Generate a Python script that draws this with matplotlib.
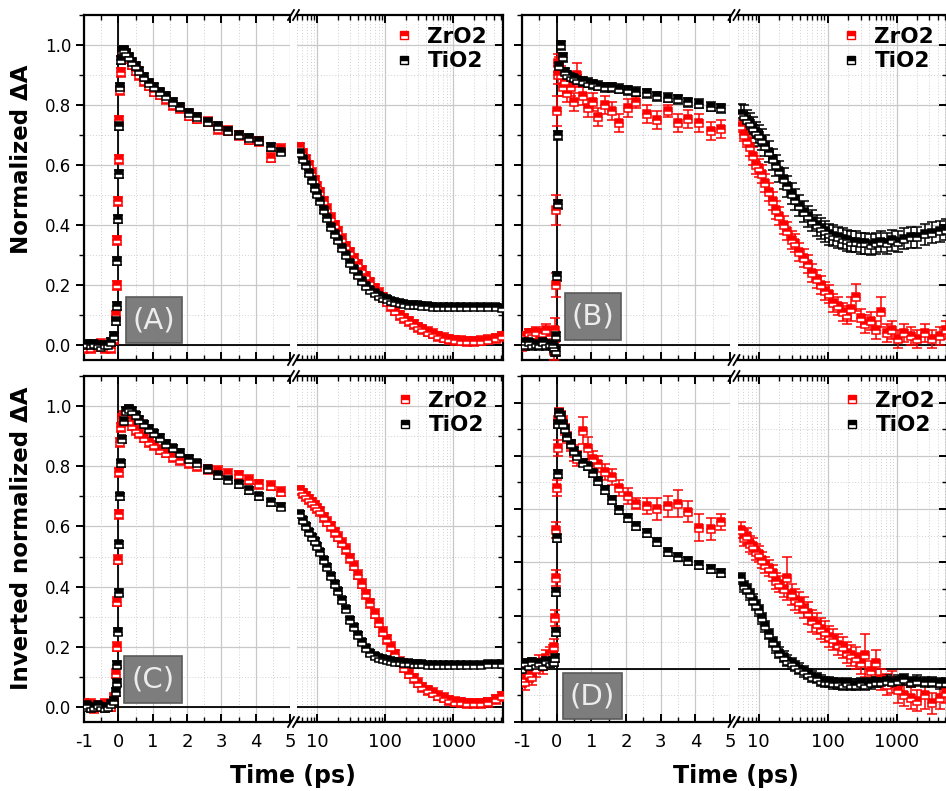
import numpy as np
import matplotlib
matplotlib.use('Agg')
import matplotlib.pyplot as plt
from matplotlib.lines import Line2D
from matplotlib.patches import Rectangle
from matplotlib.ticker import MultipleLocator, LogLocator, NullFormatter

plt.rcParams['axes.unicode_minus'] = False

# delay times (ps), split at the axis break
t_lin = [-1.0, -0.9, -0.8, -0.7, -0.6, -0.5, -0.4, -0.3, -0.2, -0.12,
         -0.08, -0.05, -0.03, -0.01, 0.01, 0.03, 0.05, 0.08, 0.12, 0.17,
         0.23, 0.3, 0.4, 0.5, 0.6, 0.75, 0.9, 1.05, 1.2, 1.4,
         1.6, 1.8, 2.05, 2.3, 2.6, 2.9, 3.2, 3.5, 3.8, 4.1,
         4.45, 4.75]
t_log = [5.6, 6.2, 6.8, 7.5, 8.3, 9.2, 10, 11, 12.5, 14,
         16, 18, 20, 23, 26, 30, 34, 39, 45, 52,
         60, 70, 80, 92, 105, 120, 140, 165, 190, 220,
         260, 300, 350, 420, 500, 600, 720, 870, 1050, 1300,
         1600, 2000, 2600, 3300, 4300, 5200]

# (A) normalized dA
a_zro2_lin = [-0.01, 0.0, -0.01, 0.0, -0.005, 0.005, -0.01, 0.0, -0.01, 0.02,
              0.1, 0.2, 0.35, 0.48, 0.62, 0.75, 0.85, 0.91, 0.96, 0.975,
              0.97, 0.955, 0.935, 0.915, 0.9, 0.88, 0.865, 0.845, 0.835, 0.82,
              0.80, 0.79, 0.765, 0.755, 0.745, 0.72, 0.715, 0.70, 0.685, 0.68,
              0.625, 0.655]
a_tio2_lin = [0.0, 0.005, 0.0, 0.005, 0.0, -0.005, 0.0, 0.0, 0.01, 0.03,
              0.08, 0.13, 0.28, 0.42, 0.57, 0.73, 0.86, 0.95, 0.98, 0.985,
              0.975, 0.96, 0.945, 0.93, 0.915, 0.895, 0.875, 0.86, 0.845, 0.83,
              0.81, 0.795, 0.775, 0.76, 0.745, 0.73, 0.715, 0.70, 0.69, 0.68,
              0.66, 0.645]
a_zro2_log = [0.66, 0.64, 0.62, 0.60, 0.575, 0.55, 0.53, 0.51, 0.48, 0.455,
              0.425, 0.40, 0.38, 0.355, 0.33, 0.31, 0.29, 0.27, 0.25, 0.23,
              0.21, 0.19, 0.175, 0.16, 0.145, 0.13, 0.115, 0.10, 0.09, 0.08,
              0.07, 0.06, 0.052, 0.045, 0.037, 0.03, 0.024, 0.02, 0.016, 0.014,
              0.012, 0.012, 0.015, 0.018, 0.022, 0.03]
a_tio2_log = [0.64, 0.62, 0.60, 0.575, 0.55, 0.525, 0.505, 0.48, 0.45, 0.425,
              0.395, 0.37, 0.35, 0.325, 0.30, 0.275, 0.255, 0.235, 0.215, 0.197,
              0.183, 0.172, 0.163, 0.157, 0.152, 0.147, 0.143, 0.14, 0.137, 0.135,
              0.133, 0.132, 0.13, 0.13, 0.128, 0.128, 0.127, 0.126, 0.127, 0.126,
              0.126, 0.127, 0.127, 0.126, 0.126, 0.125]
a_zro2_err = (0.015, 0.015)
a_tio2_err = (0.012, 0.01)

# (B) normalized dA
b_zro2_lin = [0.0, 0.03, 0.04, 0.035, 0.045, 0.02, 0.04, 0.05, 0.03, 0.02,
              -0.02, 0.05, 0.2, 0.45, 0.78, 0.9, 0.94, 0.93, 0.90, 0.86,
              0.88, 0.84, 0.86, 0.81, 0.90, 0.83, 0.79, 0.81, 0.76, 0.80,
              0.78, 0.74, 0.79, 0.81, 0.77, 0.75, 0.78, 0.74, 0.755, 0.74,
              0.715, 0.72]
b_tio2_lin = [0.01, 0.0, 0.01, 0.0, 0.005, 0.0, 0.01, 0.0, 0.005, 0.0,
              -0.01, -0.02, -0.02, 0.03, 0.23, 0.47, 0.70, 0.93, 1.0, 0.96,
              0.91, 0.90, 0.895, 0.89, 0.885, 0.88, 0.875, 0.87, 0.865, 0.86,
              0.86, 0.855, 0.85, 0.845, 0.84, 0.83, 0.825, 0.82, 0.81, 0.805,
              0.795, 0.79]
b_zro2_log = [0.73, 0.70, 0.68, 0.66, 0.63, 0.60, 0.59, 0.57, 0.54, 0.51,
              0.48, 0.45, 0.43, 0.40, 0.38, 0.35, 0.34, 0.31, 0.29, 0.27,
              0.24, 0.22, 0.20, 0.18, 0.17, 0.14, 0.13, 0.11, 0.10, 0.12,
              0.16, 0.09, 0.07, 0.08, 0.05, 0.11, 0.04, 0.05, 0.02, 0.04,
              0.03, 0.02, 0.04, 0.02, 0.03, 0.05]
b_tio2_log = [0.77, 0.765, 0.75, 0.74, 0.725, 0.71, 0.70, 0.685, 0.665, 0.645,
              0.62, 0.60, 0.58, 0.555, 0.53, 0.505, 0.485, 0.465, 0.445, 0.43,
              0.415, 0.40, 0.39, 0.38, 0.37, 0.365, 0.36, 0.355, 0.35, 0.345,
              0.345, 0.34, 0.34, 0.335, 0.34, 0.345, 0.34, 0.35, 0.345, 0.355,
              0.36, 0.36, 0.37, 0.375, 0.38, 0.385]
b_zro2_lin_err = [0.02, 0.015, 0.015, 0.02, 0.015, 0.02, 0.015, 0.02, 0.02, 0.03,
                  0.03, 0.04, 0.04, 0.05, 0.05, 0.03, 0.03, 0.03, 0.03, 0.03,
                  0.03, 0.03, 0.03, 0.03, 0.04, 0.03, 0.03, 0.03, 0.03, 0.03,
                  0.03, 0.03, 0.03, 0.02, 0.03, 0.03, 0.02, 0.03, 0.03, 0.03,
                  0.03, 0.03]
b_zro2_log_err = [0.02, 0.02, 0.02, 0.03, 0.03, 0.03, 0.03, 0.03, 0.03, 0.03,
                  0.03, 0.03, 0.03, 0.03, 0.03, 0.03, 0.03, 0.03, 0.03, 0.03,
                  0.03, 0.03, 0.03, 0.03, 0.03, 0.03, 0.03, 0.03, 0.03, 0.04,
                  0.045, 0.03, 0.03, 0.03, 0.03, 0.05, 0.03, 0.03, 0.03, 0.03,
                  0.03, 0.03, 0.03, 0.03, 0.03, 0.03]
b_tio2_err = (0.015, 0.035)

# (C) inverted normalized dA
c_zro2_lin = [0.01, 0.0, 0.01, -0.005, 0.005, 0.0, 0.01, 0.0, 0.0, 0.03,
              0.11, 0.2, 0.35, 0.49, 0.64, 0.78, 0.88, 0.93, 0.96, 0.97,
              0.96, 0.95, 0.935, 0.92, 0.91, 0.895, 0.88, 0.87, 0.855, 0.845,
              0.83, 0.82, 0.81, 0.80, 0.79, 0.785, 0.775, 0.77, 0.755, 0.74,
              0.735, 0.715]
c_tio2_lin = [0.0, 0.005, -0.005, 0.0, 0.005, 0.0, -0.005, 0.0, 0.01, 0.02,
              0.05, 0.08, 0.14, 0.25, 0.38, 0.54, 0.70, 0.81, 0.89, 0.95,
              0.985, 0.99, 0.985, 0.97, 0.955, 0.94, 0.925, 0.91, 0.895, 0.875,
              0.86, 0.845, 0.825, 0.81, 0.79, 0.77, 0.755, 0.74, 0.72, 0.70,
              0.68, 0.665]
c_zro2_log = [0.72, 0.71, 0.70, 0.69, 0.68, 0.67, 0.66, 0.65, 0.63, 0.615,
              0.60, 0.58, 0.565, 0.545, 0.525, 0.495, 0.47, 0.44, 0.41, 0.375,
              0.345, 0.31, 0.28, 0.25, 0.225, 0.20, 0.175, 0.15, 0.13, 0.11,
              0.095, 0.08, 0.065, 0.055, 0.047, 0.038, 0.03, 0.022, 0.018, 0.015,
              0.013, 0.013, 0.012, 0.015, 0.025, 0.035]
c_tio2_log = [0.64, 0.62, 0.60, 0.58, 0.565, 0.55, 0.535, 0.515, 0.49, 0.465,
              0.435, 0.41, 0.385, 0.355, 0.325, 0.29, 0.265, 0.24, 0.215, 0.195,
              0.18, 0.17, 0.163, 0.158, 0.155, 0.152, 0.15, 0.148, 0.147, 0.145,
              0.144, 0.143, 0.142, 0.141, 0.14, 0.14, 0.139, 0.139, 0.139, 0.14,
              0.14, 0.14, 0.141, 0.142, 0.142, 0.143]
c_zro2_err = (0.015, 0.015)
c_tio2_err = (0.012, 0.01)

# (D) inverted normalized dA
d_zro2_lin = [-0.04, -0.05, -0.02, -0.03, 0.0, 0.02, 0.01, 0.04, 0.05, 0.06,
              0.08, 0.19, 0.34, 0.52, 0.68, 0.83, 0.93, 0.96, 0.95, 0.93,
              0.90, 0.87, 0.84, 0.81, 0.79, 0.895, 0.83, 0.79, 0.77, 0.74,
              0.72, 0.68, 0.65, 0.62, 0.61, 0.60, 0.61, 0.62, 0.59, 0.53,
              0.525, 0.55]
d_tio2_lin = [0.0, 0.02, 0.01, 0.025, 0.015, 0.02, 0.01, 0.03, 0.02, 0.03,
              0.025, 0.04, 0.14, 0.29, 0.49, 0.73, 0.92, 0.96, 0.95, 0.92,
              0.90, 0.87, 0.845, 0.82, 0.80, 0.775, 0.76, 0.735, 0.705, 0.67,
              0.635, 0.595, 0.565, 0.535, 0.51, 0.475, 0.44, 0.42, 0.405, 0.39,
              0.375, 0.36]
d_zro2_log = [0.52, 0.49, 0.50, 0.47, 0.46, 0.44, 0.43, 0.41, 0.39, 0.38,
              0.36, 0.33, 0.32, 0.30, 0.34, 0.28, 0.26, 0.25, 0.23, 0.21,
              0.18, 0.17, 0.15, 0.14, 0.12, 0.11, 0.09, 0.08, 0.06, 0.05,
              0.04, 0.02, 0.05, -0.01, 0.02, -0.04, -0.06, -0.05, -0.08, -0.1,
              -0.11, -0.12, -0.1, -0.13, -0.11, -0.09]
d_tio2_log = [0.34, 0.31, 0.30, 0.28, 0.26, 0.24, 0.22, 0.19, 0.16, 0.13,
              0.10, 0.08, 0.06, 0.045, 0.03, 0.02, 0.01, 0.0, -0.01, -0.02,
              -0.03, -0.035, -0.045, -0.05, -0.05, -0.055, -0.055, -0.06, -0.055, -0.06,
              -0.06, -0.055, -0.06, -0.055, -0.05, -0.05, -0.045, -0.05, -0.045, -0.04,
              -0.05, -0.045, -0.05, -0.05, -0.055, -0.055]
d_zro2_lin_err = [0.03, 0.03, 0.03, 0.03, 0.03, 0.03, 0.03, 0.03, 0.03, 0.03,
                  0.03, 0.03, 0.03, 0.03, 0.03, 0.03, 0.02, 0.02, 0.02, 0.02,
                  0.02, 0.02, 0.02, 0.03, 0.03, 0.05, 0.04, 0.03, 0.03, 0.03,
                  0.03, 0.03, 0.03, 0.02, 0.03, 0.04, 0.04, 0.05, 0.04, 0.05,
                  0.04, 0.03]
d_zro2_log_err = [0.03, 0.03, 0.03, 0.03, 0.03, 0.03, 0.03, 0.03, 0.03, 0.03,
                  0.03, 0.03, 0.03, 0.03, 0.08, 0.04, 0.04, 0.04, 0.04, 0.04,
                  0.04, 0.04, 0.04, 0.04, 0.04, 0.04, 0.04, 0.04, 0.04, 0.04,
                  0.04, 0.04, 0.08, 0.04, 0.05, 0.04, 0.04, 0.04, 0.05, 0.04,
                  0.04, 0.04, 0.05, 0.04, 0.04, 0.04]
d_tio2_err = (0.015, 0.02)

series_names = ['ZrO2', 'TiO2']
x_lin_ticks = [-1, 0, 1, 2, 3, 4, 5]
x_log_ticks = [10, 100, 1000]
x_log_labels = ['10', '100', '1000']

RED = '#ff0000'
BLACK = '#000000'

W, H = 946, 791
fig = plt.figure(figsize=(W / 100, H / 100), dpi=100)


def fx(x):
    return x / W


def fy(y):
    return 1 - y / H


def draw_series(ax, t, y, err, color):
    ax.errorbar(t, y, yerr=err, fmt='s', ms=6, color=color, mec=color, mfc=color,
                mfcalt='white', fillstyle='top', mew=1.1, elinewidth=1.1,
                ecolor=color, capsize=3.5, capthick=1.1, zorder=3)


def panel(box, lin_right, log_left, ylim, data, letter, label_box,
          show_ylabels, show_xlabels, legend_xy):
    left, top, right, bottom = box
    ax1 = fig.add_axes([fx(left), fy(bottom), fx(lin_right) - fx(left), fy(top) - fy(bottom)])
    ax2 = fig.add_axes([fx(log_left), fy(bottom), fx(right) - fx(log_left), fy(top) - fy(bottom)])

    for ax in (ax1, ax2):
        ax.set_ylim(ylim)
        ax.yaxis.set_major_locator(MultipleLocator(0.2))
        ax.yaxis.set_minor_locator(MultipleLocator(0.1))
        ax.set_axisbelow(True)
        ax.grid(True, which='major', color='#c8c8c8', lw=0.9)
        ax.grid(True, which='minor', color='#d0d0d0', lw=0.7, ls=(0, (1, 2)))
        ax.axhline(0, color='k', lw=1.3, zorder=1.5)
        for s in ax.spines.values():
            s.set_linewidth(1.6)
        ax.tick_params(which='major', length=6, width=1.4)
        ax.tick_params(which='minor', length=3.5, width=1.0)
    ax1.spines['right'].set_visible(False)
    ax2.spines['left'].set_visible(False)

    # linear part
    ax1.set_xlim(-1, 5)
    ax1.set_xticks(x_lin_ticks)
    ax1.xaxis.set_minor_locator(MultipleLocator(0.5))
    ax1.axvline(0, color='k', lw=1.3, zorder=1.5)
    ax1.tick_params(axis='x', which='both', direction='in', top=True, bottom=True,
                    labelbottom=show_xlabels, labelsize=13, pad=8)
    ax1.tick_params(axis='y', which='both', direction='out', left=True, right=False,
                    labelleft=show_ylabels, labelsize=12, pad=3)
    ax1.yaxis.set_major_formatter(plt.FuncFormatter(lambda v, p: '%.1f' % v))

    # log part
    ax2.set_xscale('log')
    ax2.set_xlim(5, 5400)
    ax2.set_xticks(x_log_ticks)
    ax2.set_xticklabels(x_log_labels)
    ax2.xaxis.set_minor_locator(LogLocator(10, subs=np.arange(2, 10)))
    ax2.xaxis.set_minor_formatter(NullFormatter())
    ax2.tick_params(axis='x', which='both', direction='in', top=True, bottom=True,
                    labelbottom=show_xlabels, labelsize=13, pad=8)
    ax2.tick_params(axis='y', which='both', direction='in', left=False, right=True,
                    labelleft=False)

    (zr_lin, zr_log, zr_el, zr_eg), (ti_lin, ti_log, ti_el, ti_eg) = data
    draw_series(ax1, t_lin, zr_lin, zr_el, RED)
    draw_series(ax1, t_lin, ti_lin, ti_el, BLACK)
    draw_series(ax2, t_log, zr_log, zr_eg, RED)
    draw_series(ax2, t_log, ti_log, ti_eg, BLACK)

    # break marks
    gx = (lin_right + log_left) / 2
    for yy in (top, bottom):
        for dx in (-2.5, 2.5):
            fig.add_artist(Line2D([fx(gx + dx - 3), fx(gx + dx + 3)],
                                  [fy(yy + 5), fy(yy - 5)], color='k', lw=1.3))

    # legend
    handles = [Line2D([], [], ls='none', marker='s', ms=6, color=c, mec=c, mfc=c,
                      mfcalt='white', fillstyle='top') for c in (RED, BLACK)]
    ax2.legend(handles, series_names, loc='upper left',
               bbox_to_anchor=(fx(legend_xy[0]), fy(legend_xy[1])),
               bbox_transform=fig.transFigure, frameon=False,
               prop={'weight': 'bold', 'size': 15.5}, handlelength=1.0,
               handletextpad=0.6, labelspacing=0.2, borderpad=0, borderaxespad=0)

    # panel letter box
    bx0, by0, bx1, by1 = label_box
    fig.add_artist(Rectangle((fx(bx0), fy(by1)), fx(bx1) - fx(bx0), fy(by0) - fy(by1),
                             transform=fig.transFigure, facecolor='#7d7d7d',
                             edgecolor='#5a5a5a', lw=1.2, zorder=5))
    fig.text(fx((bx0 + bx1) / 2), fy((by0 + by1) / 2), letter, ha='center', va='center',
             color='#ececec', fontsize=21, zorder=6)


panel((84, 15, 503, 360), 290, 297, (-0.05, 1.1),
      [(a_zro2_lin, a_zro2_log, a_zro2_err[0], a_zro2_err[1]),
       (a_tio2_lin, a_tio2_log, a_tio2_err[0], a_tio2_err[1])],
      '(A)', (126, 297, 182, 343), True, False, (393, 27))
panel((522, 15, 947, 360), 730, 738, (-0.05, 1.1),
      [(b_zro2_lin, b_zro2_log, b_zro2_lin_err, b_zro2_log_err),
       (b_tio2_lin, b_tio2_log, b_tio2_err[0], b_tio2_err[1])],
      '(B)', (565, 293, 621, 340), False, False, (840, 27))
panel((84, 376, 503, 722), 290, 297, (-0.05, 1.1),
      [(c_zro2_lin, c_zro2_log, c_zro2_err[0], c_zro2_err[1]),
       (c_tio2_lin, c_tio2_log, c_tio2_err[0], c_tio2_err[1])],
      '(C)', (124, 656, 182, 703), True, True, (394, 391))
panel((522, 376, 947, 722), 730, 738, (-0.2, 1.1),
      [(d_zro2_lin, d_zro2_log, d_zro2_lin_err, d_zro2_log_err),
       (d_tio2_lin, d_tio2_log, d_tio2_err[0], d_tio2_err[1])],
      '(D)', (563, 673, 622, 719), False, True, (841, 391))

fig.text(fx(22), fy(159), 'Normalized ΔA', rotation=90, ha='center', va='center',
         fontsize=16.5, fontweight='bold')
fig.text(fx(22), fy(538), 'Inverted normalized ΔA', rotation=90, ha='center', va='center',
         fontsize=16.5, fontweight='bold')
fig.text(fx(293), fy(776), 'Time (ps)', ha='center', va='center', fontsize=17, fontweight='bold')
fig.text(fx(736), fy(776), 'Time (ps)', ha='center', va='center', fontsize=17, fontweight='bold')

fig.savefig('out.png', dpi=100)
